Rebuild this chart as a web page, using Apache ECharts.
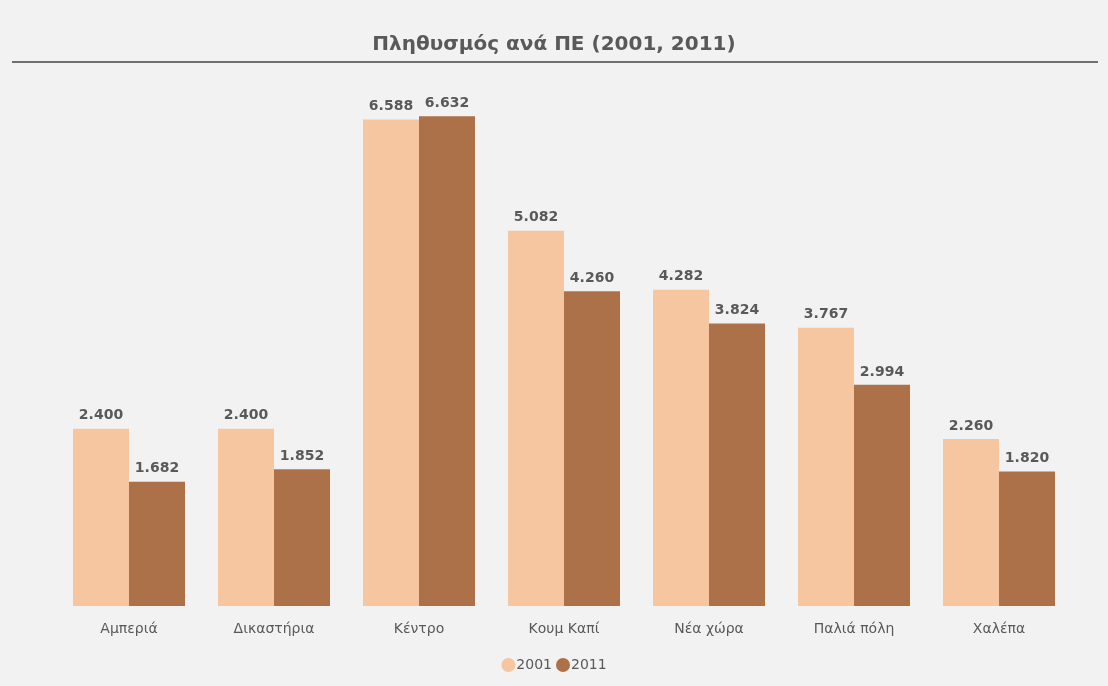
<!DOCTYPE html>
<html>
<head>
<meta charset="utf-8">
<script src="https://cdn.jsdelivr.net/npm/echarts@6/dist/echarts.min.js"></script>
<style>
  html, body { margin: 0; padding: 0; background: #f2f2f2; }
  #chart { width: 1108px; height: 686px; }
</style>
</head>
<body>
<div id="chart"></div>
<script>
const categories = ['Αμπεριά', 'Δικαστήρια', 'Κέντρο', 'Κουμ Καπί', 'Νέα χώρα', 'Παλιά πόλη', 'Χαλέπα']
const pop2001 = [2400, 2400, 6588, 5082, 4282, 3767, 2260]
const pop2011 = [1682, 1852, 6632, 4260, 3824, 2994, 1820]

// ελληνική μορφή χιλιάδων: 2400 -> 2.400
const fmt = (v) => String(v).replace(/\B(?=(\d{3})+(?!\d))/g, '.')

const font = 'Verdana, "DejaVu Sans", sans-serif'
const labelStyle = {
  show: true,
  position: 'top',
  distance: 6,
  color: '#595959',
  fontFamily: font,
  fontWeight: 'bold',
  fontSize: 14,
  formatter: (p) => fmt(p.value)
}

const chart = echarts.init(document.getElementById('chart'))
chart.setOption({
  backgroundColor: '#f2f2f2',
  animation: false,
  color: ['#f5c6a0', '#ad714a'],
  title: {
    text: 'Πληθυσμός ανά ΠΕ (2001, 2011)',
    left: 'center',
    top: 30,
    textStyle: { color: '#595959', fontFamily: font, fontWeight: 'bold', fontSize: 20 }
  },
  graphic: [{
    type: 'line',
    shape: { x1: 12, y1: 62, x2: 1098, y2: 62 },
    style: { stroke: '#6f6f6f', lineWidth: 2 }
  }],
  legend: {
    data: ['2001', '2011'],
    bottom: 9,
    left: 'center',
    icon: 'circle',
    itemWidth: 14,
    itemHeight: 14,
    itemGap: 4,
    textStyle: { color: '#595959', fontFamily: font, fontSize: 14, padding: [0, 0, 0, -4] }
  },
  grid: { left: 56.5, right: 36.5, top: 89, bottom: 80 },
  xAxis: {
    type: 'category',
    data: categories,
    axisLine: { show: false },
    axisTick: { show: false },
    axisLabel: { color: '#595959', fontFamily: font, fontSize: 14, margin: 16 }
  },
  yAxis: {
    type: 'value',
    min: 0,
    max: 7000,
    show: false,
    splitLine: { show: false }
  },
  series: [
    { name: '2001', type: 'bar', data: pop2001, barWidth: 56, barGap: '0%', label: labelStyle },
    { name: '2011', type: 'bar', data: pop2011, barWidth: 56, barGap: '0%', label: labelStyle }
  ]
})
</script>
</body>
</html>
